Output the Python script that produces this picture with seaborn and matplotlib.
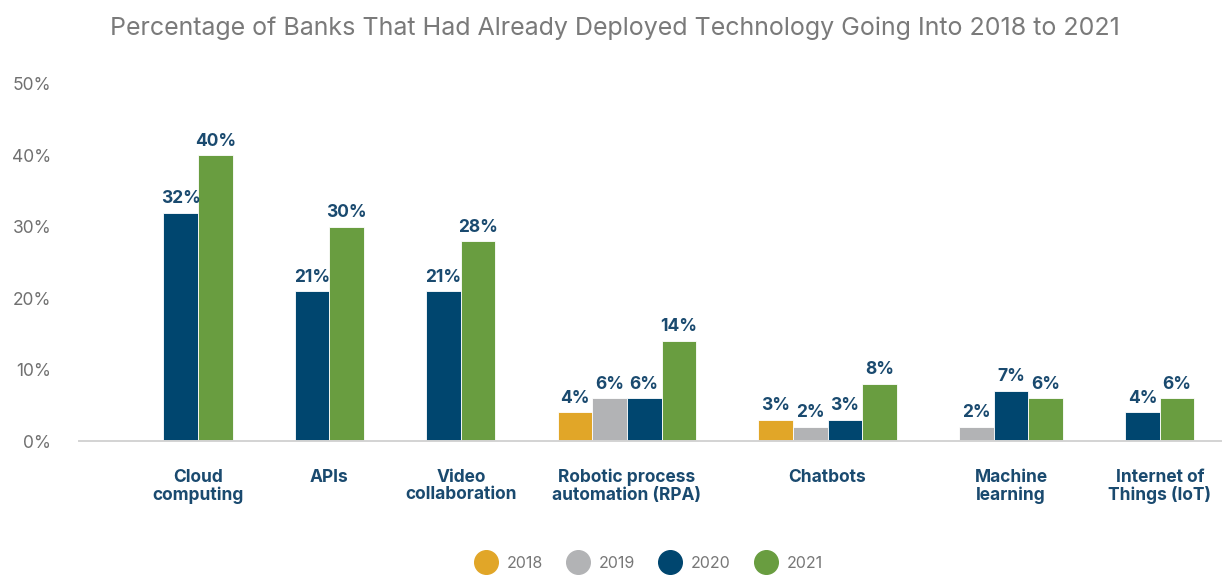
import matplotlib
matplotlib.use("Agg")
import matplotlib.pyplot as plt
from matplotlib.lines import Line2D
import pandas as pd
import seaborn as sns

# ---- data -------------------------------------------------------------
title = "Percentage of Banks That Had Already Deployed Technology Going Into 2018 to 2021"
categories = [
    "Cloud\ncomputing",
    "APIs",
    "Video\ncollaboration",
    "Robotic process\nautomation (RPA)",
    "Chatbots",
    "Machine\nlearning",
    "Internet of\nThings (IoT)",
]
years = ["2018", "2019", "2020", "2021"]
values_2018 = [None, None, None, 4, 3, None, None]
values_2019 = [None, None, None, 6, 2, 2, None]
values_2020 = [32, 21, 21, 6, 3, 7, 4]
values_2021 = [40, 30, 28, 14, 8, 6, 6]
y_ticks = [0, 10, 20, 30, 40, 50]

# ---- style ------------------------------------------------------------
palette = {"2018": "#E1A628", "2019": "#B2B3B5", "2020": "#00466F", "2021": "#699D40"}
navy_text = "#1A4A6F"
grey_text = "#707070"

sns.set_theme(style="white")
plt.rcParams["font.family"] = ["Inter", "DejaVu Sans"]

# ---- layout: only present bars are placed, groups separated by a gap ---
GAP = 1.8  # in bar widths
series = dict(zip(years, [values_2018, values_2019, values_2020, values_2021]))
rows, centers = [], []
slot = 0.0
for i, cat in enumerate(categories):
    start = slot
    for yr in years:
        v = series[yr][i]
        if v is not None:
            rows.append({"category": cat, "year": yr, "value": v, "pos": round(slot, 3)})
            slot += 1
    centers.append((start + slot - 1) / 2)
    slot += GAP
df = pd.DataFrame(rows)

W, H = 1229, 578
fig = plt.figure(figsize=(W / 100, H / 100), dpi=100)
ax = fig.add_axes([79 / W, 1 - 441 / H, (1221 - 79) / W, (441 - 84) / H])

sns.barplot(
    data=df, x="pos", y="value", hue="year", hue_order=years, palette=palette,
    native_scale=True, dodge=False, width=1.0, errorbar=None, legend=False,
    edgecolor="white", linewidth=0.6, saturation=1, ax=ax,
)

for cont in ax.containers:
    ax.bar_label(cont, fmt="{:.0f}%", padding=4, fontsize=12.5,
                 fontweight="bold", color=navy_text)

x_left = -0.5 - (163.3 - 79) / 34.6
ax.set_xlim(x_left, x_left + (1221 - 79) / 34.6)
ax.set_ylim(0, 50)

ax.set_xticks(centers)
ax.set_xticklabels(categories, fontsize=12.5, fontweight="bold", color=navy_text,
                   linespacing=1.05)
ax.set_yticks(y_ticks)
ax.set_yticklabels([f"{t}%" for t in y_ticks], fontsize=12.5, color=grey_text)
ax.tick_params(axis="x", length=0, pad=20)
ax.tick_params(axis="y", length=0, pad=20)
ax.set_xlabel("")
ax.set_ylabel("")
for side in ("left", "right", "top"):
    ax.spines[side].set_visible(False)
ax.spines["bottom"].set_color("#D3D3D3")
ax.spines["bottom"].set_linewidth(1.4)
ax.grid(False)

fig.text(615 / W, 1 - 35.5 / H, title, ha="center", va="baseline",
         fontsize=18, fontweight="normal", color="#7A7A7A")

handles = [Line2D([0], [0], marker="o", linestyle="", markersize=17,
                  markerfacecolor=palette[y], markeredgecolor=palette[y]) for y in years]
fig.legend(handles, years, loc="center", bbox_to_anchor=(648 / W, 1 - 563 / H),
           ncol=4, frameon=False, fontsize=11.5, handlelength=1.6,
           handletextpad=0.5, columnspacing=1.4, labelcolor="#777777")

fig.savefig("out.png", dpi=100)
